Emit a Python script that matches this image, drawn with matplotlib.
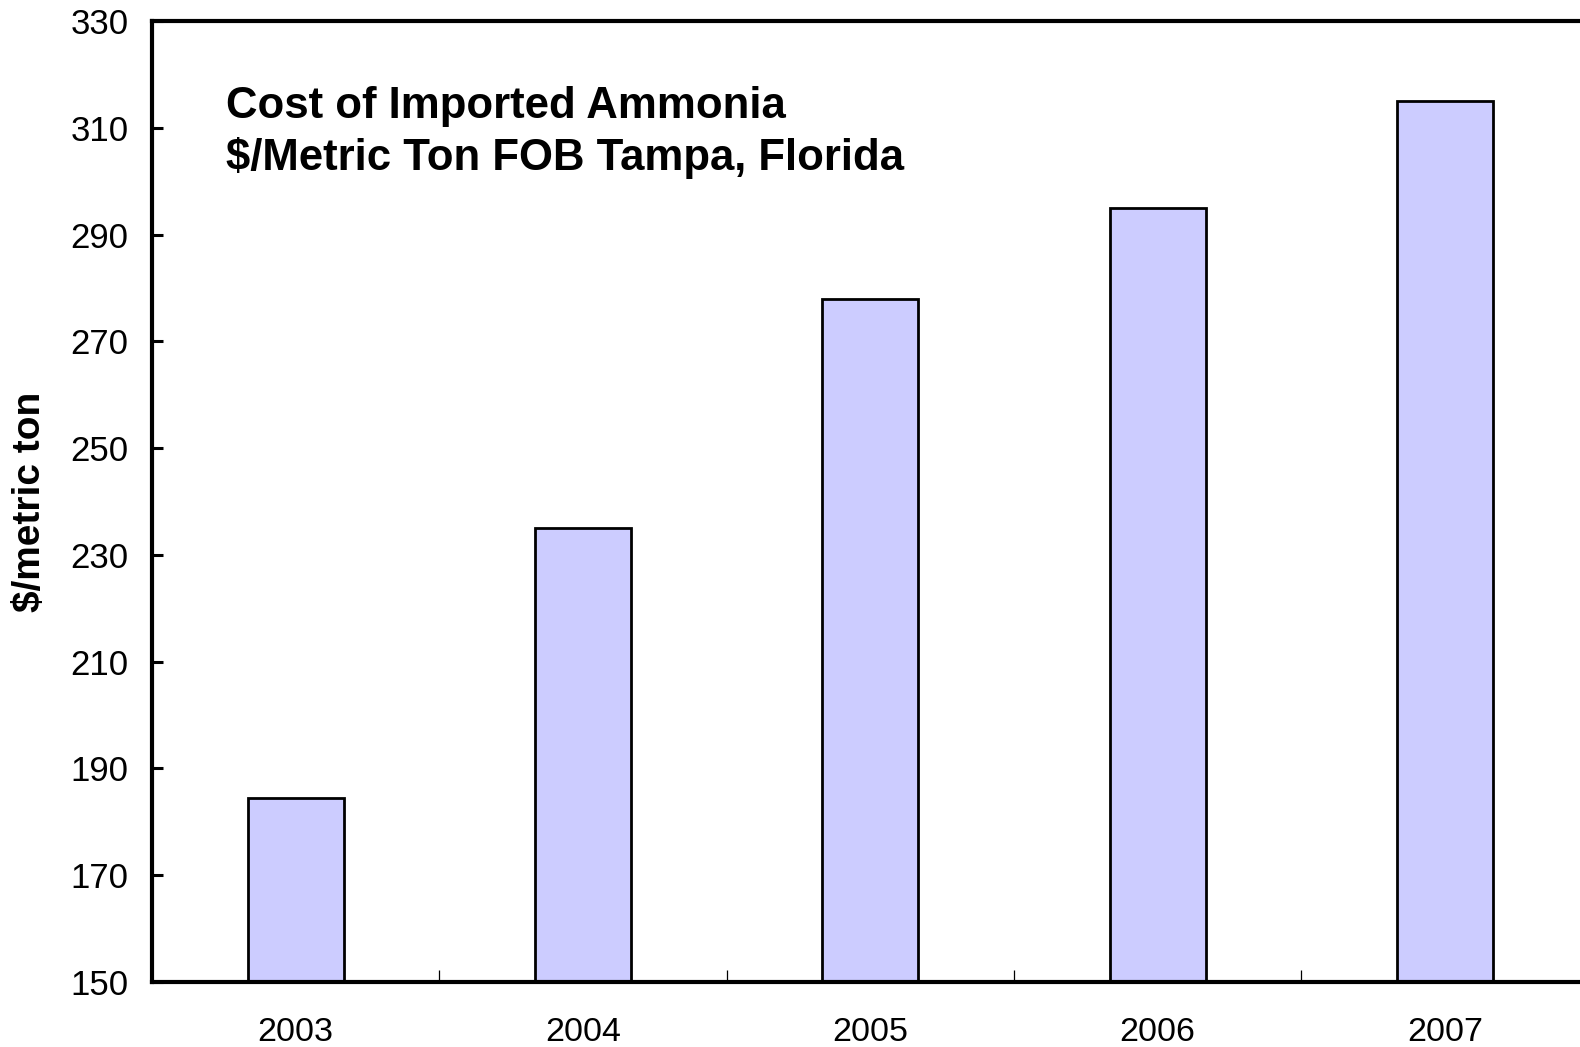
import matplotlib
matplotlib.use("Agg")
import matplotlib.pyplot as plt
import numpy as np

plt.rcParams["font.family"] = ["Liberation Sans", "DejaVu Sans"]

years = ["2003", "2004", "2005", "2006", "2007"]
cost = [184.5, 235, 278, 295, 315]

C_BAR = "#CCCCFF"

fig = plt.figure(figsize=(15.8, 10.47), dpi=100)
ax = fig.add_axes([152 / 1580, 1 - 982 / 1047, 1436.5 / 1580, 961 / 1047])

x = np.arange(len(years))
ax.bar(x, [c - 150 for c in cost], bottom=150, width=0.334,
       color=C_BAR, edgecolor="black", lw=2.0, zorder=2)

ax.set_xlim(-0.5, len(years) - 0.5)
ax.set_ylim(150, 330)
ax.set_yticks(np.arange(150, 331, 20))
ax.set_xticks(x)
ax.set_xticklabels(years)
ax.set_xticks(np.arange(0.5, len(years) - 0.5, 1), minor=True)

ax.tick_params(axis="y", direction="in", length=8, width=2.2, labelsize=25, pad=17)
ax.tick_params(axis="x", which="major", length=0, labelsize=24.5, pad=25)
ax.tick_params(axis="x", which="minor", direction="in", length=9, width=0.9)

for s in ["left", "top", "bottom"]:
    ax.spines[s].set_linewidth(3)
ax.spines["right"].set_visible(False)

ax.set_ylabel("$/metric ton", fontsize=28, fontweight="bold", labelpad=16)

fig.text(226 / 1580, 1 - 86 / 1047,
         "Cost of Imported Ammonia\n$/Metric Ton FOB Tampa, Florida",
         ha="left", va="top", fontsize=31.5, fontweight="bold", linespacing=1.3)

fig.savefig("out.png", dpi=100, facecolor="white")
